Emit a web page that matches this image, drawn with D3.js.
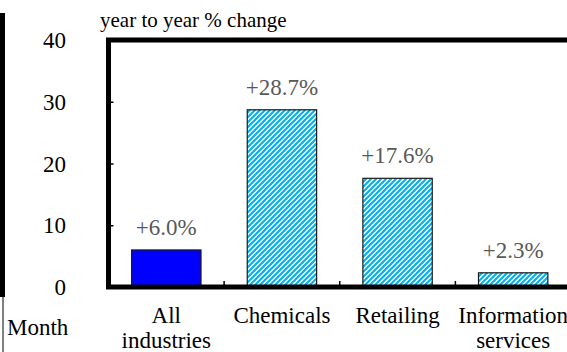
<!DOCTYPE html>
<html>
<head>
<meta charset="utf-8">
<script src="https://cdn.jsdelivr.net/npm/d3@7/dist/d3.min.js"></script>
<style>
  html, body { margin: 0; padding: 0; background: #fff; }
  svg { display: block; }
</style>
</head>
<body>
<svg id="chart" width="567" height="352"></svg>
<script>
// Year-to-year % change by industry
const categories = ["All industries", "Chemicals", "Retailing", "Information services"];
const categoryLines = [["All", "industries"], ["Chemicals"], ["Retailing"], ["Information", "services"]];
const changes = [6.0, 28.7, 17.6, 2.3];
const yTicks = [0, 10, 20, 30, 40];
const yDomain = [0, 40];
const titleText = "year to year % change";
const sideLabel = "Month";

const W = 567, H = 352;
const plot = { left: 108.5, right: 571, top: 40, bottom: 287 };
const fontSize = 23;
const serif = "Liberation Serif, Tinos, DejaVu Serif, serif";

const svg = d3.select("#chart").style("font-family", serif);

// diagonal hatch used for the individual industries
const defs = svg.append("defs");
const p = 5;
const pat = defs.append("pattern")
  .attr("id", "hatch")
  .attr("patternUnits", "userSpaceOnUse")
  .attr("width", p).attr("height", p);
pat.append("rect").attr("width", p).attr("height", p).attr("fill", "#fff");
pat.append("path")
  .attr("d", `M${-p},${p} L${p},${-p} M0,${p * 2} L${p * 2},0 M${-p},${2 * p} L${2 * p},${-p}`)
  .attr("stroke", "#00B0F0")
  .attr("stroke-width", 2.1)
  .attr("fill", "none");

const x = d3.scaleBand()
  .domain(categories)
  .range([plot.left, plot.right])
  .paddingInner(0.4)
  .paddingOuter(0.2);

const y = d3.scaleLinear().domain(yDomain).range([plot.bottom, plot.top]);

// bars
svg.append("g").selectAll("rect")
  .data(categories)
  .join("rect")
  .attr("x", d => x(d))
  .attr("width", x.bandwidth())
  .attr("y", (d, i) => y(changes[i]))
  .attr("height", (d, i) => y(0) - y(changes[i]))
  .attr("fill", (d, i) => i === 0 ? "#0000FF" : "url(#hatch)")
  .attr("stroke", "#1a1a1a")
  .attr("stroke-width", 1.2);

// value labels
svg.append("g").selectAll("text")
  .data(categories)
  .join("text")
  .attr("x", d => x(d) + x.bandwidth() / 2)
  .attr("y", (d, i) => y(changes[i]) - 15)
  .attr("text-anchor", "middle")
  .style("font-family", serif)
  .attr("font-size", fontSize)
  .attr("fill", "#595959")
  .text((d, i) => "+" + d3.format(".1f")(changes[i]) + "%");

// y axis: ticks point inward, labels on the left
const yAxis = d3.axisRight(y).tickValues(yTicks).tickSize(5).tickFormat("");
svg.append("g")
  .attr("transform", `translate(${plot.left},0)`)
  .call(yAxis)
  .call(g => g.select(".domain").remove())
  .call(g => g.selectAll("line").attr("stroke", "#000").attr("stroke-width", 1.5));

svg.append("g").selectAll("text")
  .data(yTicks)
  .join("text")
  .attr("x", 66)
  .attr("y", d => y(d) + 8)
  .attr("text-anchor", "end")
  .style("font-family", serif)
  .attr("font-size", fontSize)
  .attr("fill", "#000")
  .text(d => d);

// x ticks between categories, pointing up from the baseline
const step = x.step();
const bounds = categories.slice(1).map(c => x(c) - x.paddingInner() * step / 2);
svg.append("g").selectAll("line")
  .data(bounds)
  .join("line")
  .attr("x1", d => d).attr("x2", d => d)
  .attr("y1", plot.bottom).attr("y2", plot.bottom - 6)
  .attr("stroke", "#000").attr("stroke-width", 1.5);

// plot frame
svg.append("rect")
  .attr("x", plot.left).attr("y", plot.top)
  .attr("width", plot.right - plot.left).attr("height", plot.bottom - plot.top)
  .attr("fill", "none").attr("stroke", "#000").attr("stroke-width", 5);

// category labels
const catG = svg.append("g").selectAll("text")
  .data(categories)
  .join("text")
  .attr("text-anchor", "middle")
  .style("font-family", serif)
  .attr("font-size", fontSize)
  .attr("fill", "#000");
catG.selectAll("tspan")
  .data((d, i) => categoryLines[i].map(t => ({ t, cx: x(d) + x.bandwidth() / 2 })))
  .join("tspan")
  .attr("x", d => d.cx)
  .attr("y", (d, j) => 323 + j * 25)
  .text(d => d.t);

// title above the plot
svg.append("text")
  .attr("x", 100).attr("y", 27)
  .style("font-family", serif)
  .attr("font-size", 21)
  .attr("fill", "#000")
  .text(titleText);

// neighbouring panel edge on the left
svg.append("rect").attr("x", 0).attr("y", 13).attr("width", 5).attr("height", 284).attr("fill", "#000");
svg.append("line").attr("x1", 3).attr("x2", 3).attr("y1", 297).attr("y2", H)
  .attr("stroke", "#000").attr("stroke-width", 1);

svg.append("text")
  .attr("x", 7).attr("y", 335)
  .style("font-family", serif)
  .attr("font-size", fontSize)
  .attr("fill", "#000")
  .text(sideLabel);
</script>
</body>
</html>
